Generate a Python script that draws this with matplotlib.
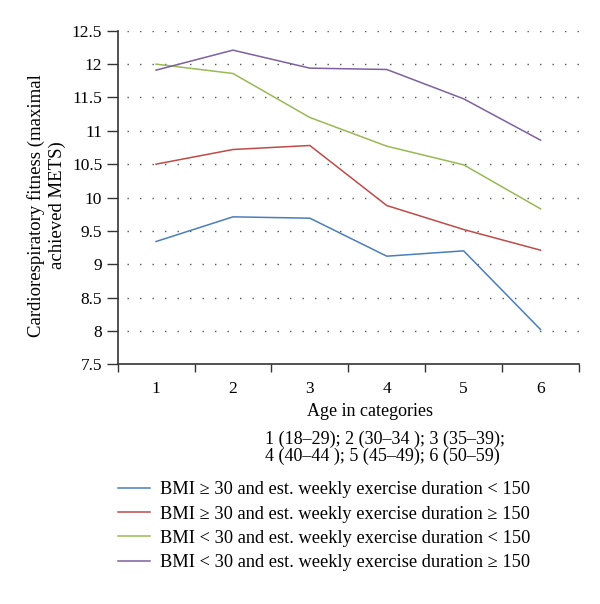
import numpy as np
import matplotlib.pyplot as plt

categories = [1, 2, 3, 4, 5, 6]
obese_low = [9.34, 9.71, 9.69, 9.12, 9.20, 8.02]
obese_high = [10.50, 10.72, 10.78, 9.88, 9.52, 9.21]
normal_low = [12.00, 11.86, 11.20, 10.77, 10.49, 9.83]
normal_high = [11.91, 12.21, 11.94, 11.92, 11.48, 10.86]

series_labels = [
    "BMI \u2265 30 and est. weekly exercise duration < 150",
    "BMI \u2265 30 and est. weekly exercise duration \u2265 150",
    "BMI < 30 and est. weekly exercise duration < 150",
    "BMI < 30 and est. weekly exercise duration \u2265 150",
]
colors = ["#4a7ebb", "#be4b48", "#98b954", "#7d60a0"]
y_ticks = [7.5, 8, 8.5, 9, 9.5, 10, 10.5, 11, 11.5, 12, 12.5]

plt.rcParams['font.family'] = ['Liberation Serif', 'DejaVu Serif']

fig = plt.figure(figsize=(6.0, 6.04), dpi=100)
ax = fig.add_axes([0.196, 0.397, 0.769, 0.552])

for vals, col, lab in zip([obese_low, obese_high, normal_low, normal_high], colors, series_labels):
    ax.plot(categories, vals, color=col, lw=1.1, label=lab)

ax.set_xlim(0.5, 6.5)
ax.set_ylim(7.5, 12.5)
ax.set_yticks(y_ticks)
ax.set_yticklabels(["%g" % t for t in y_ticks], fontsize=12.5)
ax.set_xticks(np.arange(0.5, 7, 1))
ax.set_xticklabels([])
ax.set_xticks(categories, minor=True)
ax.set_xticklabels([str(c) for c in categories], minor=True, fontsize=12.5)
ax.tick_params(axis='x', which='minor', length=0, pad=12)
ax.tick_params(axis='x', which='major', length=6, width=1, direction='out', color='#333333')
ax.tick_params(axis='y', length=8, width=1, direction='out', color='#333333', pad=3)

# dotted horizontal grid
for y in y_ticks[1:]:
    ax.axhline(y, color='#555555', lw=1.0, dashes=(1, 8), xmin=0.02, zorder=0)

ax.spines['top'].set_visible(False)
ax.spines['right'].set_visible(False)
ax.spines['left'].set_color('#333333')
ax.spines['bottom'].set_color('#333333')
ax.spines['left'].set_linewidth(1.2)
ax.spines['bottom'].set_linewidth(1.2)

fig.text(0.077, 0.66, "Cardiorespiratory fitness (maximal\nachieved METS)",
         rotation=90, ha='center', va='center', fontsize=13.5, linespacing=1.3)
fig.text(0.617, 0.318, "Age in categories", ha='center', va='center', fontsize=13)
fig.text(0.442, 0.2725, "1 (18\u201329); 2 (30\u201334 ); 3 (35\u201339);", ha='left', va='center', fontsize=13)
fig.text(0.442, 0.244, "4 (40\u201344 ); 5 (45\u201349); 6 (50\u201359)", ha='left', va='center', fontsize=13)

handles, labels = ax.get_legend_handles_labels()
fig.legend(handles, labels, loc='upper left', bbox_to_anchor=(0.185, 0.2155),
           frameon=False, fontsize=13.2, handlelength=1.7, handletextpad=0.55,
           labelspacing=0.4, borderaxespad=0)

fig.savefig("out.png", dpi=100)
